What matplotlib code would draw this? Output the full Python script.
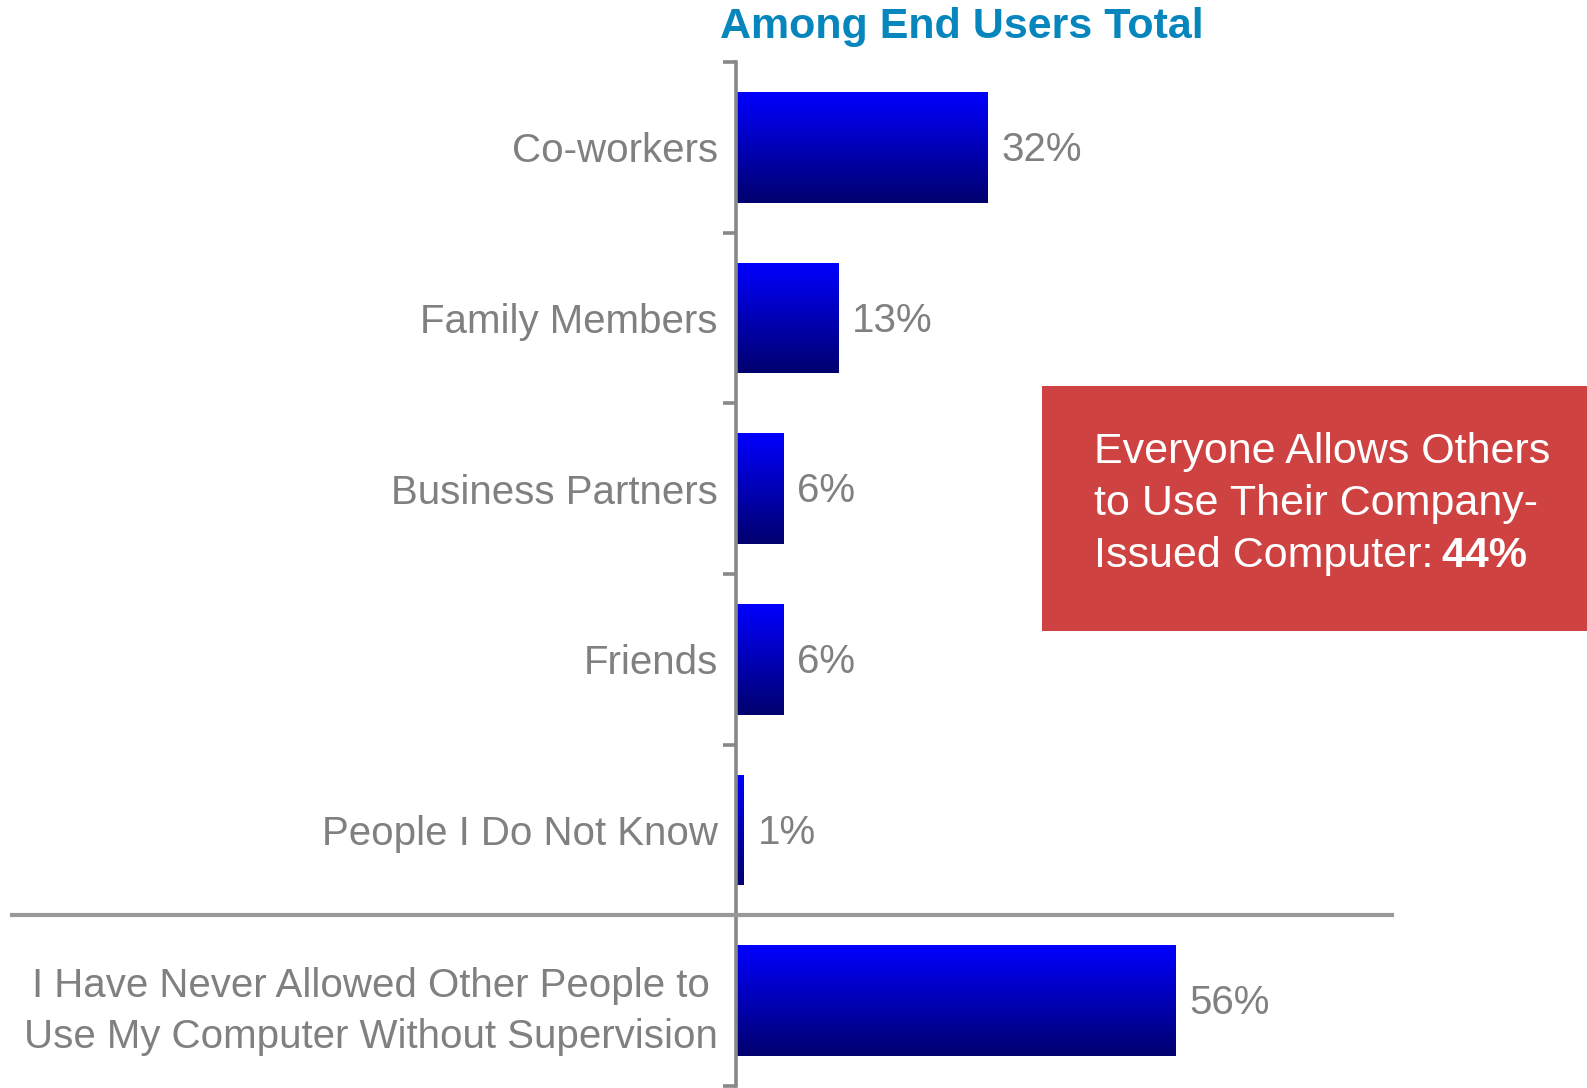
import numpy as np
import matplotlib
matplotlib.use("Agg")
import matplotlib.pyplot as plt
from matplotlib.lines import Line2D
from matplotlib.patches import Rectangle
from matplotlib.text import Annotation
import matplotlib.transforms as mtransforms

plt.rcParams['font.family'] = ['Liberation Sans', 'DejaVu Sans']

# ---- data ----
categories = [
    "Co-workers",
    "Family Members",
    "Business Partners",
    "Friends",
    "People I Do Not Know",
    "I Have Never Allowed Other People to\nUse My Computer Without Supervision",
]
values = [32, 13, 6, 6, 1, 56]
value_labels = ["32%", "13%", "6%", "6%", "1%", "56%"]
title = "Among End Users Total"
callout_lines = ["Everyone Allows Others", "to Use Their Company-", "Issued Computer: "]
callout_bold = "44%"

W, H = 1587, 1088
fig = plt.figure(figsize=(W / 100, H / 100), dpi=100)

ax_left = 736 / W
ax_bottom = (H - 1086) / H
ax_top = (H - 62) / H
ax = fig.add_axes([ax_left, ax_bottom, 1 - ax_left, ax_top - ax_bottom])

ypos = np.arange(len(categories))
bars = ax.barh(ypos, values, height=0.65, color='none', edgecolor='none')

# gradient fill for each bar
top_c = np.array([0, 0, 255]) / 255
bot_c = np.array([0, 0, 110]) / 255
t = np.linspace(0, 1, 256)[:, None]
grad = (top_c[None, :] * (1 - t) + bot_c[None, :] * t)[:, None, :]
for b in bars:
    x0 = b.get_x()
    x1 = x0 + b.get_width()
    y0 = b.get_y()
    y1 = y0 + b.get_height()
    im = ax.imshow(grad, extent=(x0, x1, y1, y0), origin='upper', aspect='auto',
                   interpolation='bilinear', zorder=2)
    im.set_clip_path(b)

ax.set_xlim(0, 851 / 7.85)
ax.set_ylim(len(categories) - 0.5, -0.5)

gray = '#808080'
for b, lab in zip(bars, value_labels):
    ax.annotate(lab, xy=(b.get_width(), b.get_y() + b.get_height() / 2),
                xytext=(10, -2), textcoords='offset points',
                ha='left', va='center', fontsize=29, color=gray)

# axes styling
for s in ['top', 'right', 'bottom']:
    ax.spines[s].set_visible(False)
ax.spines['left'].set_color('#888888')
ax.spines['left'].set_linewidth(2.6)
ax.set_xticks([])
ax.set_yticks(ypos)
ax.set_yticklabels(categories, fontsize=29, color=gray, multialignment='center',
                   linespacing=1.45)
ax.tick_params(axis='y', which='major', length=0, pad=13)
ax.set_yticks(np.arange(-0.5, len(categories), 1.0), minor=True)
ax.tick_params(axis='y', which='minor', length=9.4, width=2.6, color='#888888')
ax.patch.set_visible(False)

# separator line between groups
trans = mtransforms.blended_transform_factory(fig.transFigure, ax.transData)
fig.add_artist(Line2D([12 / W, 1392 / W], [len(categories) - 1.5] * 2,
                      transform=trans, color='#999999', lw=3.0, zorder=5))

# title
fig.text(962 / W, 1 - 27 / H, title, ha='center', va='center', fontsize=31,
         fontweight='bold', color='#0686BD')

# callout box
fig.patches.append(Rectangle((1042 / W, 1 - 631 / H), (W - 1042) / W, (631 - 386) / H,
                             transform=fig.transFigure, facecolor='#CF4242',
                             edgecolor='none', zorder=1))
line_y = [452, 504, 556]
last = None
for txt, yy in zip(callout_lines, line_y):
    last = fig.text(1094 / W, 1 - yy / H, txt, ha='left', va='center', fontsize=31,
                    color='white', zorder=3)
bold_ann = Annotation(callout_bold, xy=(1, 0), xycoords=last, xytext=(-3, 0),
                      textcoords='offset points', ha='left', va='bottom', fontsize=31,
                      fontweight='bold', color='white', zorder=3)
fig.add_artist(bold_ann)

fig.savefig("out.png", dpi=100)
